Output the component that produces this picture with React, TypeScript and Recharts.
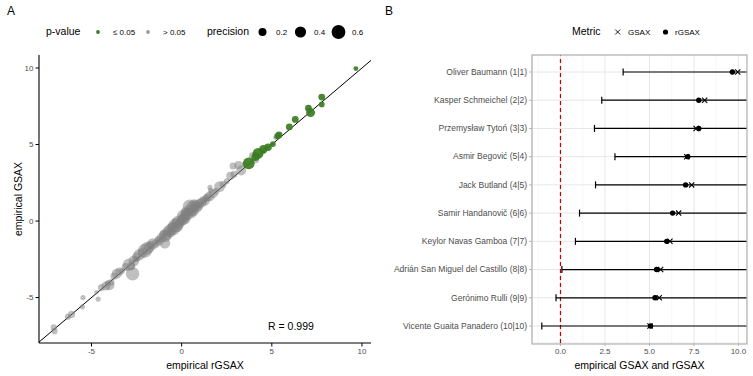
import React from 'react';
import {
  ScatterChart,
  Scatter,
  XAxis,
  YAxis,
  ZAxis,
  CartesianGrid,
  ReferenceLine,
  ErrorBar,
} from 'recharts';

const FONT = '"Liberation Sans", Arial, Helvetica, sans-serif';

// ---- panel A: empirical rGSAX (x) vs GSAX (y), sized by precision ----
const grayX = [
  -7.09, -7.05, -6.3, -6.1, -5.5, -5.47, -4.63, -4.72, -4.45, -4.2, -4.0, -3.9, -4.1, -3.75,
  -3.6, -3.45, -3.3, -3.1, -2.92, -2.72, -2.8, -2.65, -2.55, -2.5, -2.35, -2.15, -2.05, -1.9,
  -1.8, -1.7, -1.6, -1.43, -1.3, -1.25, -1.1, -1.0, -0.93, -0.9, -0.83, -0.75, -0.65, -0.6,
  -0.5, -0.45, -0.35, -0.3, -0.25, -0.2, -0.1, 0.0, 0.05, 0.1, 0.15, 0.2, 0.25, 0.3, 0.35,
  0.45, 0.5, 0.55, 0.6, 0.65, 0.7, 0.8, 0.85, 0.95, 1.0, 1.1, 1.2, 1.3, 1.35, 1.45, 1.55,
  1.57, 1.6, 1.75, 1.9, 2.1, 2.3, 2.5, 2.7, 2.85, 2.9, 3.15, 3.3, 3.5, 3.95, 4.1, 4.5, 5.2,
];
const grayY = [
  -6.95, -7.2, -6.25, -6.1, -5.6, -5.0, -5.1, -4.65, -4.35, -4.25, -4.2, -4.0, -4.05, -3.6,
  -3.45, -3.3, -3.25, -3.0, -2.85, -3.45, -2.95, -2.6, -2.5, -2.35, -2.2, -2.05, -1.95, -1.78,
  -1.7, -1.55, -1.5, -1.46, -1.2, -1.3, -1.1, -0.85, -1.45, -0.95, -0.92, -0.7, -0.6, -0.75,
  -0.4, -0.5, -0.3, -0.15, -0.35, -0.05, -0.2, 0.0, 0.1, 0.3, 0.15, 0.35, 0.6, 0.45, 0.55,
  0.95, 0.7, 0.55, 0.9, 0.7, 1.1, 1.05, 0.9, 0.95, 1.15, 1.2, 1.35, 1.3, 1.5, 1.55, 1.6,
  2.2, 2.0, 1.8, 1.95, 2.25, 2.4, 2.6, 2.95, 3.6, 3.05, 3.65, 3.3, 3.7, 4.25, 4.0, 4.55, 5.45,
];
const grayP = [
  0.12, 0.12, 0.12, 0.15, 0.08, 0.08, 0.08, 0.06, 0.15, 0.25, 0.3, 0.12, 0.1, 0.15,
  0.3, 0.2, 0.1, 0.2, 0.45, 0.55, 0.2, 0.35, 0.1, 0.25, 0.4, 0.3, 0.6, 0.5,
  0.35, 0.2, 0.4, 0.2, 0.15, 0.25, 0.3, 0.2, 0.35, 0.5, 0.3, 0.4, 0.45, 0.3,
  0.35, 0.5, 0.6, 0.3, 0.4, 0.45, 0.25, 0.3, 0.4, 0.55, 0.45, 0.3, 0.35, 0.5, 0.25,
  0.6, 0.45, 0.35, 0.5, 0.4, 0.3, 0.3, 0.35, 0.2, 0.25, 0.3, 0.2, 0.25, 0.15, 0.2, 0.3,
  0.08, 0.08, 0.25, 0.15, 0.35, 0.15, 0.1, 0.2, 0.15, 0.15, 0.2, 0.3, 0.1, 0.2, 0.15, 0.1, 0.06,
];

const greenX = [9.66, 7.77, 7.77, 7.03, 7.15, 6.3, 5.97, 5.4, 5.31, 5.06, 4.79, 4.53, 4.24, 4.1, 3.72];
const greenY = [9.96, 8.1, 7.62, 7.37, 7.09, 6.64, 6.15, 5.63, 5.55, 5.03, 4.82, 4.69, 4.42, 4.2, 3.77];
const greenP = [0.07, 0.14, 0.1, 0.14, 0.24, 0.14, 0.14, 0.14, 0.12, 0.1, 0.17, 0.22, 0.35, 0.22, 0.42];

const scatterTicks = [-5, 0, 5, 10];
const xDomainA: [number, number] = [-7.91, 10.5];
const yDomainA: [number, number] = [-7.97, 10.85];

// ---- panel B: top 10 goalkeepers ----
const keepers = [
  'Oliver Baumann (1|1)',
  'Kasper Schmeichel (2|2)',
  'Przemysław Tytoń (3|3)',
  'Asmir Begović (5|4)',
  'Jack Butland (4|5)',
  'Samir Handanovič (6|6)',
  'Keylor Navas Gamboa (7|7)',
  'Adrián San Miguel del Castillo (8|8)',
  'Gerónimo Rulli (9|9)',
  'Vicente Guaita Panadero (10|10)',
];
const rgsax = [9.66, 7.77, 7.77, 7.15, 7.03, 6.3, 5.97, 5.4, 5.31, 5.06];
const gsax = [9.96, 8.1, 7.62, 7.09, 7.37, 6.64, 6.15, 5.63, 5.55, 5.03];
const lowerCI = [3.52, 2.32, 1.91, 3.06, 1.97, 1.07, 0.84, 0.08, -0.25, -1.05];
const upperCI = [15.8, 13.2, 13.6, 11.2, 12.1, 11.5, 11.1, 10.7, 10.9, 11.2];

const xTicksB = [0, 2.5, 5, 7.5, 10];
const xMinorB = [-1.25, 1.25, 3.75, 6.25, 8.75];
const xDomainB: [number, number] = [-1.6, 10.48];

const grayPts = grayX.map((x, i) => ({ x, y: grayY[i], z: grayP[i] }));
const greenPts = greenX.map((x, i) => ({ x, y: greenY[i], z: greenP[i] }));
const rRows = keepers.map((name, i) => ({
  name,
  x: rgsax[i],
  err: [rgsax[i] - lowerCI[i], upperCI[i] - rgsax[i]],
}));
const gRows = keepers.map((name, i) => ({ name, x: gsax[i] }));

const Dot = (p: any) => <circle cx={p.cx} cy={p.cy} r={2.7} fill="#000" />;
const Cross = (p: any) => {
  const s = 2.6;
  return (
    <path
      d={`M${p.cx - s},${p.cy - s}L${p.cx + s},${p.cy + s}M${p.cx - s},${p.cy + s}L${p.cx + s},${p.cy - s}`}
      stroke="#000"
      strokeWidth={1.1}
      fill="none"
    />
  );
};
const NameTick = (p: any) => (
  <text
    x={p.x}
    y={p.y}
    dy="0.33em"
    textAnchor="end"
    fontSize={8.5}
    fill="#4d4d4d"
    fontFamily={FONT}
  >
    {p.payload.value}
  </text>
);

const tickA = { fontSize: 8, fill: '#4d4d4d', fontFamily: FONT };
const titleStyle = { fontSize: 10.5, fill: '#000', fontFamily: FONT };

export default function App() {
  return (
    <div
      style={{
        position: 'absolute',
        left: 0,
        top: 0,
        width: 753,
        height: 376,
        background: '#fff',
        fontFamily: FONT,
        color: '#000',
      }}
    >
      <div style={{ position: 'absolute', left: 7, top: 4, fontSize: 12 }}>A</div>
      <div style={{ position: 'absolute', left: 385, top: 4, fontSize: 12 }}>B</div>

      {/* legends */}
      <div style={{ position: 'absolute', left: 46, top: 25, fontSize: 10.5 }}>p-value</div>
      <svg style={{ position: 'absolute', left: 0, top: 0 }} width={753} height={50}>
        <circle cx={98} cy={32} r={1.9} fill="#3a7d22" />
        <circle cx={148} cy={32} r={1.9} fill="#9a9a9a" />
        <circle cx={262.5} cy={32} r={4} fill="#000" />
        <circle cx={300.5} cy={32} r={5.6} fill="#000" />
        <circle cx={338.5} cy={32} r={6.9} fill="#000" />
        <line x1={615.2} y1={29.5} x2={620.2} y2={34.5} stroke="#000" strokeWidth={0.9} />
        <line x1={615.2} y1={34.5} x2={620.2} y2={29.5} stroke="#000" strokeWidth={0.9} />
        <circle cx={665.5} cy={32} r={2.6} fill="#000" />
      </svg>
      <div style={{ position: 'absolute', left: 113, top: 27.5, fontSize: 8 }}>≤ 0.05</div>
      <div style={{ position: 'absolute', left: 163, top: 27.5, fontSize: 8 }}>&gt; 0.05</div>
      <div style={{ position: 'absolute', left: 207, top: 25, fontSize: 10.5 }}>precision</div>
      <div style={{ position: 'absolute', left: 276, top: 27.5, fontSize: 8 }}>0.2</div>
      <div style={{ position: 'absolute', left: 314, top: 27.5, fontSize: 8 }}>0.4</div>
      <div style={{ position: 'absolute', left: 352, top: 27.5, fontSize: 8 }}>0.6</div>

      <div style={{ position: 'absolute', left: 572, top: 25, fontSize: 10.5 }}>Metric</div>
      <div style={{ position: 'absolute', left: 628, top: 27.5, fontSize: 8 }}>GSAX</div>
      <div style={{ position: 'absolute', left: 675, top: 27.5, fontSize: 8 }}>rGSAX</div>

      <div style={{ position: 'absolute', left: 0, top: 0 }}>
        <ScatterChart width={380} height={376} margin={{ top: 55, right: 9, bottom: 0, left: 0 }}>
          <XAxis
            type="number"
            dataKey="x"
            domain={xDomainA}
            ticks={scatterTicks}
            allowDataOverflow
            height={33}
            axisLine={{ stroke: '#000', strokeWidth: 1.1 }}
            tickLine={{ stroke: '#000' }}
            tickSize={3.5}
            tick={tickA}
            label={{ value: 'empirical rGSAX', position: 'insideBottom', offset: 7, style: titleStyle }}
          />
          <YAxis
            type="number"
            dataKey="y"
            domain={yDomainA}
            ticks={scatterTicks}
            allowDataOverflow
            width={39}
            axisLine={{ stroke: '#000', strokeWidth: 1.1 }}
            tickLine={{ stroke: '#000' }}
            tickSize={3.5}
            tick={tickA}
            label={{
              value: 'empirical GSAX',
              angle: -90,
              position: 'insideLeft',
              offset: 18,
              style: { ...titleStyle, textAnchor: 'middle' },
            }}
          />
          <ZAxis type="number" dataKey="z" domain={[0, 0.7]} range={[0, 182]} />
          <ReferenceLine
            segment={[
              { x: xDomainA[0], y: xDomainA[0] },
              { x: xDomainA[1], y: xDomainA[1] },
            ]}
            stroke="#000"
            strokeWidth={1}
          />
          <Scatter data={grayPts} fill="#7f7f7f" fillOpacity={0.5} isAnimationActive={false} />
          <Scatter data={greenPts} fill="#3a7d22" fillOpacity={0.92} isAnimationActive={false} />
        </ScatterChart>
      </div>
      <div style={{ position: 'absolute', left: 268, top: 320, fontSize: 10.5 }}>R = 0.999</div>

      {/* panel B, clipped at the right panel border */}
      <div style={{ position: 'absolute', left: 380, top: 0, width: 367, height: 376, overflow: 'hidden' }}>
        <ScatterChart width={373} height={376} margin={{ top: 55, right: 6, bottom: 0, left: 0 }}>
          <CartesianGrid xAxisId="minor" horizontal={false} stroke="#ececec" strokeWidth={0.5} />
          <CartesianGrid stroke="#e0e0e0" strokeWidth={0.8} />
          <XAxis xAxisId="minor" type="number" dataKey="x" hide domain={xDomainB} ticks={xMinorB} allowDataOverflow />
          <XAxis
            type="number"
            dataKey="x"
            domain={xDomainB}
            ticks={xTicksB}
            tickFormatter={(v: number) => v.toFixed(1)}
            allowDataOverflow
            height={33}
            axisLine={false}
            tickLine={{ stroke: '#b3b3b3' }}
            tickSize={3}
            tick={tickA}
            label={{ value: 'empirical GSAX and rGSAX', position: 'insideBottom', offset: 7, style: titleStyle }}
          />
          <YAxis
            type="category"
            dataKey="name"
            scale="point"
            reversed
            padding={{ top: 17, bottom: 17 }}
            width={152}
            axisLine={false}
            tickLine={{ stroke: '#b3b3b3' }}
            tickSize={3}
            tick={NameTick}
            interval={0}
          />
          <ReferenceLine x={0} stroke="#c80000" strokeWidth={1.2} strokeDasharray="4 3" />
          <Scatter data={rRows} shape={Dot} isAnimationActive={false}>
            <ErrorBar dataKey="err" direction="x" width={3.5} stroke="#000" strokeWidth={1.2} />
          </Scatter>
          <Scatter data={gRows} shape={Cross} isAnimationActive={false} />
        </ScatterChart>
      </div>
      <svg style={{ position: 'absolute', left: 0, top: 0, pointerEvents: 'none' }} width={753} height={376}>
        <rect x={532} y={55} width={215} height={289} fill="none" stroke="#b8b8b8" strokeWidth={1.3} />
      </svg>
    </div>
  );
}
